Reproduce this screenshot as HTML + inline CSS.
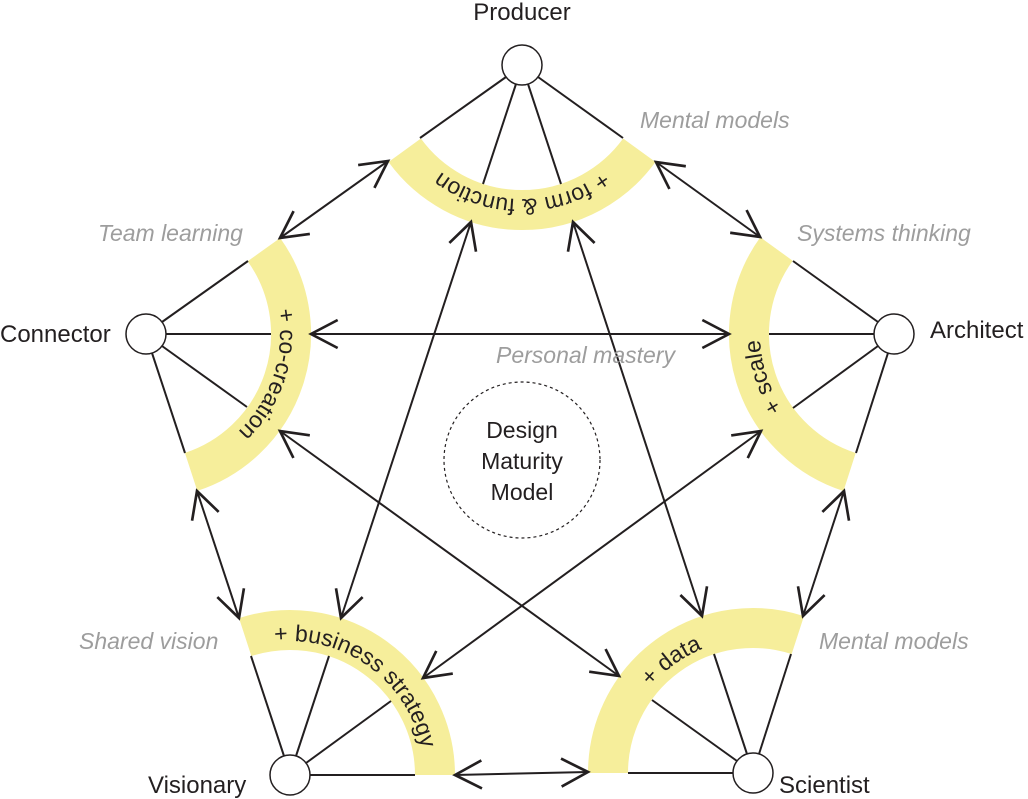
<!DOCTYPE html>
<html><head><meta charset="utf-8"><style>
html,body{margin:0;padding:0;background:#fff;}
svg{display:block;}
.lbl{font-family:"Liberation Sans",sans-serif;font-size:24px;fill:#231f20;}
.ctr{font-family:"Liberation Sans",sans-serif;font-size:23px;fill:#231f20;}
.gr{font-family:"Liberation Sans",sans-serif;font-size:23px;font-style:italic;fill:#9d9d9d;}
.arc{font-family:"Liberation Sans",sans-serif;font-size:23px;fill:#231f20;}
</style></head><body>
<svg width="1028" height="799" viewBox="0 0 1028 799" xmlns="http://www.w3.org/2000/svg">
<defs>
<marker id="ah" markerUnits="userSpaceOnUse" markerWidth="40" markerHeight="40" refX="0" refY="0" viewBox="-25 -15 30 30" orient="auto-start-reverse" overflow="visible">
<path d="M-20,-10.5 L0,0 L-20,10.5" fill="none" stroke="#231f20" stroke-width="2"/>
</marker>
<path id="tP" d="M630.4,143.8 A134,134 0 0 1 413.6,143.8"/>
<path id="tC" d="M254.9,256 A134,134 0 0 1 187.7,461.4"/>
<path id="tA" d="M853,461.6 A134,134 0 0 1 785.5,255.5"/>
<path id="tV" d="M248.6,647.6 A134,134 0 0 1 424,775"/>
<path id="tS" d="M619,773 A134,134 0 0 1 794.4,645.6"/>
</defs>

<g fill="none" stroke="#f6ee9b" stroke-width="40">
<path d="M639.3,150.3 A145,145 0 0 1 404.7,150.3"/>
<path d="M263.9,249.6 A145,145 0 0 1 191.1,471.9"/>
<path d="M849.6,472 A145,145 0 0 1 776.5,249"/>
<path d="M245.2,637.1 A145,145 0 0 1 435,775"/>
<path d="M608,773 A145,145 0 0 1 797.8,635.1"/>
</g>

<g stroke="#231f20" stroke-width="2">
<line x1="506" y1="77" x2="420" y2="138"/><line x1="538" y1="77" x2="623" y2="138"/>
<line x1="516" y1="84" x2="483" y2="184"/><line x1="528" y1="84" x2="561" y2="184"/>
<line x1="162" y1="322" x2="248" y2="261"/><line x1="166" y1="334" x2="271" y2="334"/>
<line x1="162" y1="346" x2="247" y2="407"/><line x1="152" y1="353" x2="185" y2="453"/>
<line x1="878" y1="322" x2="793" y2="261"/><line x1="874" y1="334" x2="769" y2="334"/>
<line x1="878" y1="346" x2="793" y2="408"/><line x1="888" y1="353" x2="856" y2="453"/>
<line x1="284" y1="756" x2="251" y2="656"/><line x1="296" y1="756" x2="329" y2="656"/>
<line x1="306" y1="763" x2="391" y2="701"/><line x1="310" y1="775" x2="415" y2="775"/>
<line x1="733" y1="773" x2="628" y2="773"/><line x1="737" y1="761" x2="652" y2="700"/>
<line x1="747" y1="754" x2="714" y2="654"/><line x1="759" y1="754" x2="791" y2="654"/>
</g>

<g stroke="#231f20" stroke-width="2" marker-start="url(#ah)" marker-end="url(#ah)">
<line x1="388" y1="161" x2="280" y2="238"/>
<line x1="656" y1="162" x2="760" y2="237"/>
<line x1="844" y1="491" x2="803" y2="616"/>
<line x1="588" y1="772" x2="455" y2="775"/>
<line x1="239" y1="618" x2="197" y2="491"/>
<line x1="471" y1="222" x2="341" y2="618"/>
<line x1="573" y1="222" x2="702" y2="616"/>
<line x1="311" y1="334" x2="729" y2="334"/>
<line x1="280" y1="431" x2="619" y2="676"/>
<line x1="761" y1="431" x2="423" y2="678"/>
</g>

<g fill="#fff" stroke="#231f20" stroke-width="1.5">
<circle cx="522" cy="65" r="20"/>
<circle cx="146" cy="334" r="20"/>
<circle cx="894" cy="334" r="20"/>
<circle cx="290" cy="775" r="20"/>
<circle cx="753" cy="773" r="20"/>
</g>
<circle cx="522" cy="460" r="78" fill="none" stroke="#231f20" stroke-width="1.2" stroke-dasharray="3,3"/>

<text class="arc"><textPath href="#tP" startOffset="50%" text-anchor="middle">+ form &amp; function</textPath></text>
<text class="arc"><textPath href="#tC" startOffset="50%" text-anchor="middle">+ co-creation</textPath></text>
<text class="arc"><textPath href="#tA" startOffset="50%" text-anchor="middle">+ scale</textPath></text>
<text class="arc"><textPath href="#tV" startOffset="50%" text-anchor="middle">+ business strategy</textPath></text>
<text class="arc"><textPath href="#tS" startOffset="50%" text-anchor="middle">+ data</textPath></text>

<text class="lbl" x="522" y="20" text-anchor="middle">Producer</text>
<text class="lbl" x="0" y="342">Connector</text>
<text class="lbl" x="930" y="338">Architect</text>
<text class="lbl" x="148" y="793">Visionary</text>
<text class="lbl" x="779" y="793">Scientist</text>

<text class="gr" x="640" y="128">Mental models</text>
<text class="gr" x="98" y="241">Team learning</text>
<text class="gr" x="797" y="241">Systems thinking</text>
<text class="gr" x="496" y="363">Personal mastery</text>
<text class="gr" x="79" y="649">Shared vision</text>
<text class="gr" x="819" y="649">Mental models</text>

<text class="ctr" x="522" y="438" text-anchor="middle">Design</text>
<text class="ctr" x="522" y="469" text-anchor="middle">Maturity</text>
<text class="ctr" x="522" y="500" text-anchor="middle">Model</text>
</svg>
</body></html>
